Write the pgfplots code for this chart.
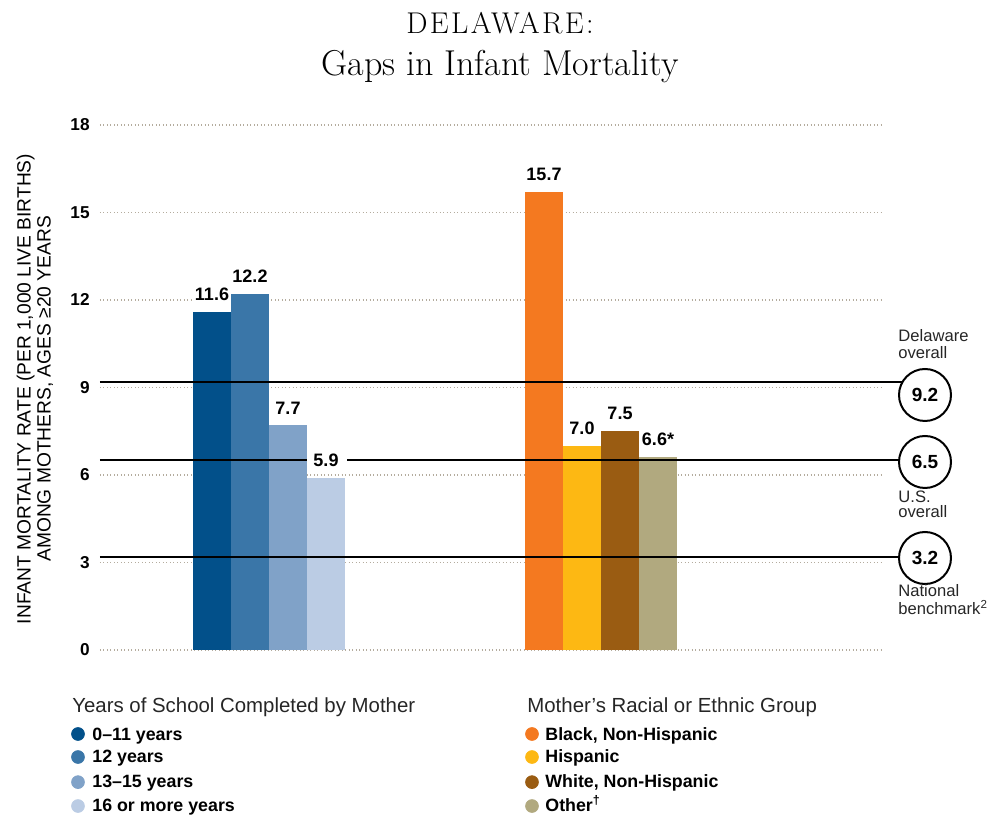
\documentclass[border=0pt]{standalone}
\usepackage{fontspec}
\setmainfont{Liberation Sans}
\newfontfamily\titlefont{Latin Modern Roman}
\newfontfamily\titlecaps[LetterSpace=8]{Latin Modern Roman}
\usepackage{pgfplots}
\pgfplotsset{compat=1.18}
\definecolor{cA}{HTML}{02508A}
\definecolor{cB}{HTML}{3A76A8}
\definecolor{cC}{HTML}{80A2C8}
\definecolor{cD}{HTML}{BBCCE4}
\definecolor{cE}{HTML}{F47920}
\definecolor{cF}{HTML}{FDB813}
\definecolor{cG}{HTML}{9A5C12}
\definecolor{cH}{HTML}{B1A97F}
\definecolor{gridc}{HTML}{B4AC9E}
\begin{document}
\begin{tikzpicture}
\begin{axis}[
  x=0.5pt, y=14.5833pt,
  xmin=100, xmax=883, ymin=0, ymax=18,
  axis line style={draw=none},
  xtick=\empty,
  ytick={0,3,6,9,12,15,18},
  major tick length=0pt,
  ymajorgrids,
  grid style={gridc, line width=0.7pt, dash pattern=on 0.5pt off 1.25pt},
  /pgf/number format/assume math mode=true,
  yticklabel style={font=\bfseries\fontsize{8.6}{10}\selectfont, inner sep=0pt, xshift=-5pt},
  clip=false,
]
% bars
\addplot[ybar, bar width=38, bar shift=0pt, fill=cA, draw=none] coordinates {(212,11.6)};
\addplot[ybar, bar width=38, bar shift=0pt, fill=cB, draw=none] coordinates {(250,12.2)};
\addplot[ybar, bar width=38, bar shift=0pt, fill=cC, draw=none] coordinates {(288,7.7)};
\addplot[ybar, bar width=38, bar shift=0pt, fill=cD, draw=none] coordinates {(326,5.9)};
\addplot[ybar, bar width=38, bar shift=0pt, fill=cE, draw=none] coordinates {(544,15.7)};
\addplot[ybar, bar width=38, bar shift=0pt, fill=cF, draw=none] coordinates {(582,7.0)};
\addplot[ybar, bar width=38, bar shift=0pt, fill=cG, draw=none] coordinates {(620,7.5)};
\addplot[ybar, bar width=38, bar shift=0pt, fill=cH, draw=none] coordinates {(658,6.6)};
% reference lines
\addplot[black, line width=1pt] coordinates {(100,9.2) (925,9.2)};
\addplot[black, line width=1pt] coordinates {(100,6.5) (307,6.5)};
\addplot[black, line width=1pt] coordinates {(347,6.5) (925,6.5)};
\addplot[black, line width=1pt] coordinates {(100,3.2) (925,3.2)};
% value labels
\addplot[ybar, bar width=38, bar shift=0pt, draw=none, fill=none,
  point meta=explicit symbolic,
  nodes near coords={\pgfplotspointmeta},
  every node near coord/.style={font=\bfseries\fontsize{9}{10}\selectfont, fill=white, inner xsep=0.5pt, inner ysep=1pt, yshift=4.5pt}]
  coordinates {(212,11.6) [11.6] (250,12.2) [12.2] (288,7.7) [7.7] (326,5.9) [5.9]
               (544,15.7) [15.7] (582,7.0) [7.0] (620,7.5) [7.5] (658,6.6) [6.6*]};
% circles
\node[circle, draw, line width=1pt, fill=white, minimum size=26pt, inner sep=0pt, font=\bfseries\fontsize{9.5}{10}\selectfont] at (axis cs:925,8.743) {9.2};
\node[circle, draw, line width=1pt, fill=white, minimum size=26pt, inner sep=0pt, font=\bfseries\fontsize{9.5}{10}\selectfont] at (axis cs:925,6.446) {6.5};
\node[circle, draw, line width=1pt, fill=white, minimum size=26pt, inner sep=0pt, font=\bfseries\fontsize{9.5}{10}\selectfont] at (axis cs:925,3.154) {3.2};
\begin{scope}[every node/.style={anchor=base west, inner sep=0pt, font=\fontsize{8.3}{9}\selectfont, text=black!85}]
\node at (axis cs:898,10.56) {Delaware};
\node at (axis cs:898,10.01) {overall};
\node at (axis cs:898,5.074) {U.S.};
\node at (axis cs:898,4.526) {overall};
\node at (axis cs:898,1.817) {National};
\node at (axis cs:898,1.234) {benchmark\textsuperscript{2}};
\end{scope}
% y label
\node[rotate=90, align=center, inner sep=0pt, font=\fontsize{9.6}{10}\selectfont] at (axis cs:35,8.95)
  {INFANT MORTALITY RATE (PER 1,000 LIVE BIRTHS)\\AMONG MOTHERS, AGES ≥20 YEARS};
% title
\node[anchor=base, inner sep=0pt, font=\titlecaps\fontsize{15}{17}\selectfont] at (axis cs:500,21.15) {DELAWARE:};
\node[anchor=base, inner sep=0pt, font=\titlefont\fontsize{18}{21}\selectfont] at (axis cs:500,19.71) {Gaps in Infant Mortality};
% legends
\node[anchor=base west, inner sep=0pt, font=\fontsize{10.2}{12}\selectfont, text=black!85] at (axis cs:72,-2.126) {Years of School Completed by Mother};
\node[anchor=base west, inner sep=0pt, font=\fontsize{10.2}{12}\selectfont, text=black!85] at (axis cs:527,-2.126) {Mother’s Racial or Ethnic Group};
\addplot[only marks, mark=*, mark size=3.2pt, cA, mark options={draw=none}] coordinates {(78,-2.88)};
\addplot[only marks, mark=*, mark size=3.2pt, cB, mark options={draw=none}] coordinates {(78,-3.67)};
\addplot[only marks, mark=*, mark size=3.2pt, cC, mark options={draw=none}] coordinates {(78,-4.53)};
\addplot[only marks, mark=*, mark size=3.2pt, cD, mark options={draw=none}] coordinates {(78,-5.35)};
\addplot[only marks, mark=*, mark size=3.2pt, cE, mark options={draw=none}] coordinates {(532,-2.88)};
\addplot[only marks, mark=*, mark size=3.2pt, cF, mark options={draw=none}] coordinates {(532,-3.67)};
\addplot[only marks, mark=*, mark size=3.2pt, cG, mark options={draw=none}] coordinates {(532,-4.53)};
\addplot[only marks, mark=*, mark size=3.2pt, cH, mark options={draw=none}] coordinates {(532,-5.35)};
\begin{scope}[every node/.style={anchor=base west, inner sep=0pt, font=\bfseries\fontsize{8.9}{10}\selectfont}]
\node at (axis cs:92,-3.086) {0–11 years};
\node at (axis cs:92,-3.874) {12 years};
\node at (axis cs:92,-4.731) {13–15 years};
\node at (axis cs:92,-5.554) {16 or more years};
\node at (axis cs:545,-3.086) {Black, Non-Hispanic};
\node at (axis cs:545,-3.874) {Hispanic};
\node at (axis cs:545,-4.731) {White, Non-Hispanic};
\node at (axis cs:545,-5.554) {Other\textsuperscript{†}};
\end{scope}
% page frame
\path (axis cs:0,22.286) rectangle (axis cs:991,-5.76);
\end{axis}
\end{tikzpicture}
\end{document}
